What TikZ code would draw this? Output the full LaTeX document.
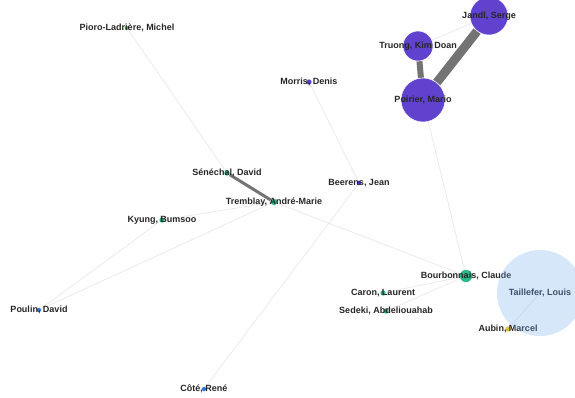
\documentclass[tikz,border=0pt]{standalone}
\usepackage{fontspec}
\setmainfont{Liberation Sans}
\usetikzlibrary{backgrounds}

\definecolor{purp}{RGB}{96,66,206}
\definecolor{mint}{RGB}{40,185,135}
\definecolor{leaf}{RGB}{90,180,70}
\definecolor{sky}{RGB}{40,120,220}
\definecolor{gold}{RGB}{220,190,60}
\definecolor{halo}{RGB}{120,175,235}
\definecolor{slate}{RGB}{60,80,105}

\tikzset{
  person/.style={circle, inner sep=0pt, draw=white, line width=0.5pt, minimum size=#1},
  nametag/.style={font=\fontsize{9}{10}\selectfont\bfseries, text=black!85, inner sep=0pt},
  link/.style={draw=black!8, line width=0.8pt},
  strong/.style={draw=black!55, line width=#1},
}

\begin{document}
\begin{tikzpicture}[x=1pt, y=-1pt]
    \useasboundingbox (0,0) rectangle (575,397);
    \clip (0,0) rectangle (575,397);
    % people
    \node[person=38pt, fill=purp, label={[nametag]center:Jandl, Serge}]          (jandl)    at (489, 16) {};
    \node[person=30pt, fill=purp, label={[nametag]center:Truong, Kim Doan}]      (truong)   at (418, 46) {};
    \node[person=44pt, fill=purp, label={[nametag]center:Poirier, Mario}]        (poirier)  at (423,100) {};
    \node[person=5pt,  fill=leaf, label={[nametag]center:Pioro-Ladrière, Michel}] (pioro)   at (127, 28) {};
    \node[person=6pt,  fill=purp, label={[nametag]center:Morris, Denis}]         (morris)   at (309, 82) {};
    \node[person=6pt,  fill=mint, label={[nametag]center:Sénéchal, David}]       (senechal) at (227,173) {};
    \node[person=7pt,  fill=mint, label={[nametag]center:Tremblay, André-Marie}] (tremblay) at (274,202) {};
    \node[person=5pt,  fill=purp!80!blue, label={[nametag]center:Beerens, Jean}] (beerens)  at (359,183) {};
    \node[person=6pt,  fill=mint, label={[nametag]center:Kyung, Bumsoo}]         (kyung)    at (162,220) {};
    \node[person=5pt,  fill=sky,  label={[nametag]center:Poulin, David}]         (poulin)   at ( 39,310) {};
    \node[person=5pt,  fill=sky,  label={[nametag]center:Côté, René}]            (cote)     at (204,389) {};
    \node[person=13pt, fill=mint, label={[nametag]center:Bourbonnais, Claude}]   (bourbon)  at (466,276) {};
    \node[person=6pt,  fill=mint, label={[nametag]center:Caron, Laurent}]        (caron)    at (383,293) {};
    \node[person=6pt,  fill=mint, label={[nametag]center:Sedeki, Abdeliouahab}]  (sedeki)   at (386,311) {};
    \node[person=6pt,  fill=gold, label={[nametag]center:Aubin, Marcel}]         (aubin)    at (508,329) {};
    \node[person=86pt, draw=none, fill=halo, fill opacity=0.3,
          label={[nametag, text=slate, text opacity=1]center:Taillefer, Louis}]  (taillefer) at (540,293) {};
    % collaborations
    \begin{scope}[on background layer]
    \draw[link] (pioro) -- (senechal);
    \draw[link] (morris) -- (beerens);
    \draw[link] (beerens) -- (cote);
    \draw[link] (tremblay) -- (kyung);
    \draw[link] (tremblay) -- (poulin);
    \draw[link] (kyung) -- (poulin);
    \draw[link] (tremblay) -- (bourbon);
    \draw[link] (poirier) -- (bourbon);
    \draw[link] (bourbon) -- (caron);
    \draw[link] (bourbon) -- (sedeki);
    \draw[link] (truong) -- (jandl);
    \draw[link] (taillefer.center) -- (aubin);
    \draw[strong=3pt] (senechal) -- (tremblay);
    \draw[strong=6pt] (truong) -- (poirier);
    \draw[strong=9pt] (jandl) -- (poirier);
    \end{scope}
  \end{tikzpicture}
\end{document}
